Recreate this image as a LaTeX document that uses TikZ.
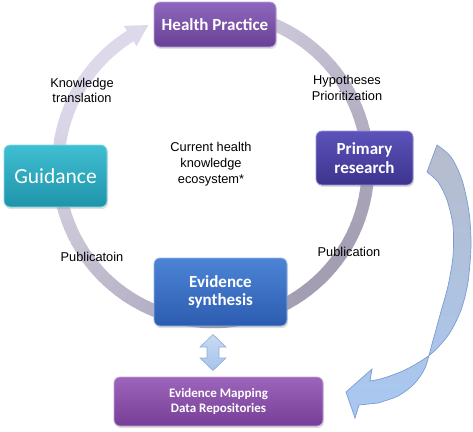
\documentclass[tikz,border=0pt]{standalone}
\usepackage{fontspec}
\setmainfont{Liberation Sans}
\newfontfamily\boxfont{Carlito}
\usetikzlibrary{calc,shadows}
\definecolor{ringlight}{RGB}{222,217,234}
\definecolor{ringdark}{RGB}{163,158,178}
\definecolor{bigline}{RGB}{122,156,212}
\definecolor{bigtop}{RGB}{182,188,204}
\definecolor{bigbot}{RGB}{168,200,242}
\definecolor{hptop}{RGB}{142,104,188}
\definecolor{hpbot}{RGB}{104,64,150}
\definecolor{prtop}{RGB}{92,82,186}
\definecolor{prbot}{RGB}{60,52,142}
\definecolor{gdtop}{RGB}{64,190,210}
\definecolor{gdbot}{RGB}{30,148,170}
\definecolor{estop}{RGB}{76,132,214}
\definecolor{esbot}{RGB}{44,92,176}
\definecolor{emtop}{RGB}{156,100,186}
\definecolor{embot}{RGB}{118,62,150}
\definecolor{daline}{RGB}{142,174,219}
\definecolor{datop}{RGB}{200,218,242}
\definecolor{dabot}{RGB}{166,196,236}
\tikzset{
  box/.style n args={2}{rounded corners=6pt, top color=#1, bottom color=#2,
    draw=#1!60!white, line width=0.8pt, text=white, align=center, inner sep=0pt,
    drop shadow={opacity=0.25, shadow xshift=1pt, shadow yshift=-2pt}},
  bigtxt/.style={font=\boxfont\bfseries\fontsize{17}{18.5}\selectfont},
  lbl/.style={font=\fontsize{12.8}{15.8}\selectfont, align=center, text=black, inner sep=0pt}
}
\begin{document}
\begin{tikzpicture}[x=1pt,y=1pt]
\useasboundingbox (0,0) rectangle (473,-431);
\coordinate (c) at (213,-167);
% ring arrow
\foreach \s in {-80,-77,...,235}{
  \pgfmathsetmacro{\a}{-\s}
  \pgfmathsetmacro{\t}{50+50*cos(\s-45)}
  \draw[line width=12.5pt, ringdark!\t!ringlight] ($(c)+(\a:155)$) arc[start angle=\a, end angle=\a-3.4, radius=155pt];
}
\fill[ringlight] ($(c)+(122.3:167)$) -- ($(c)+(114.5:156)$) -- ($(c)+(122.3:143)$) -- cycle;
% big curved arrow
\path[draw=bigline, line width=0.7pt, top color=bigtop, bottom color=bigbot]
  plot[smooth] coordinates {(437,-145) (451,-157) (462,-180) (469,-212) (471,-245) (468,-282) (461,-310) (449,-334) (431,-354) (407,-369) (384,-378) (370,-381)}
  -- (372,-369) -- (346,-392) -- (355,-418) -- (359,-405)
  -- plot[smooth] coordinates {(378,-403) (398,-396) (414,-384) (425,-368) (432,-344) (440,-315) (448,-286) (453,-256) (453,-226) (447,-200) (438,-182) (427,-172)}
  -- cycle;
% boxes
\node[box={hptop}{hpbot}, bigtxt,
      minimum width=122pt, minimum height=45pt] (hp) at (215,-24.5) {Health Practice};
\node[box={prtop}{prbot}, bigtxt,
      minimum width=97pt, minimum height=54pt] (pr) at (364.5,-158) {Primary\\research};
\node[box={gdtop}{gdbot},
      font=\boxfont\fontsize{21.5}{24}\selectfont,
      minimum width=103pt, minimum height=62pt] (gd) at (55.5,-176) {Guidance};
\node[box={estop}{esbot}, bigtxt,
      minimum width=133pt, minimum height=68pt] (es) at (220.5,-292) {Evidence\\synthesis};
\node[box={emtop}{embot},
      font=\boxfont\bfseries\fontsize{13}{15.7}\selectfont,
      minimum width=209pt, minimum height=49pt] (em) at (218.5,-401.5) {Evidence Mapping\\Data Repositories};
% double arrow between evidence synthesis and evidence mapping
\coordinate (da) at (213,-352.5);
\path[draw=daline, line width=0.6pt, top color=datop, bottom color=dabot]
  (da) ++(0,18) -- ++(13,-12.5) -- ++(-7,0) -- ++(0,-11) -- ++(7,0) -- ++(-13,-12.5)
  -- ++(-13,12.5) -- ++(7,0) -- ++(0,11) -- ++(-7,0) -- cycle;
% labels
\node[lbl] (kt) at (82,-90.5) {Knowledge\\translation};
\node[lbl] (hy) at (347,-88) {Hypotheses\\Prioritization};
\node[lbl] (ce) at (211,-164) {Current health\\knowledge\\ecosystem*};
\node[lbl] (p1) at (92,-257) {Publicatoin};
\node[lbl] (p2) at (349,-252) {Publication};
\end{tikzpicture}
\end{document}
